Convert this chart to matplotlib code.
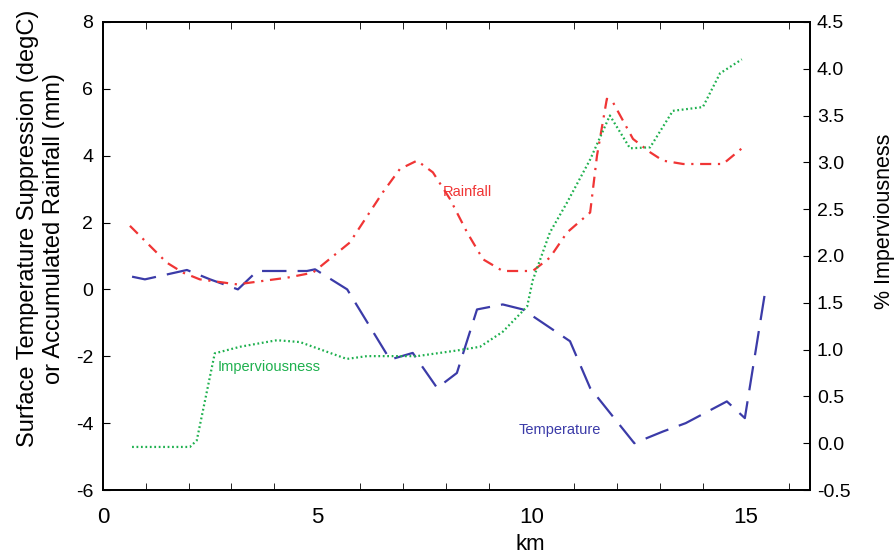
import matplotlib
matplotlib.use("Agg")
import matplotlib.pyplot as plt

plt.rcParams['font.family'] = ['Liberation Sans', 'DejaVu Sans']
plt.rcParams['axes.unicode_minus'] = False

# surface temperature suppression (degC), left axis
temp_km = [0.68, 0.98, 1.96, 2.5, 3.15, 3.6, 4.76, 4.95, 5.7, 6.7, 7.23, 7.8, 8.26,
           8.73, 9.33, 9.8, 10.9, 11.37, 11.9, 12.4, 13.07, 13.6, 14.56, 14.98, 15.45]
temp = [0.38, 0.3, 0.58, 0.3, 0.0, 0.55, 0.55, 0.6, 0.0, -2.1, -1.9, -2.95, -2.5,
        -0.6, -0.45, -0.6, -1.55, -2.95, -3.8, -4.6, -4.25, -4.0, -3.35, -3.85, -0.1]

# accumulated rainfall (mm), left axis
rain_km = [0.63, 1.49, 1.87, 2.26, 3.13, 4.3, 4.9, 5.76, 6.53, 6.93, 7.33, 7.7, 8.1,
           8.5, 8.87, 9.33, 10.03, 10.43, 10.83, 11.37, 11.53, 11.76, 11.9, 12.37,
           12.77, 13.07, 13.54, 14.47, 14.94]
rain = [1.9, 0.8, 0.5, 0.3, 0.15, 0.35, 0.5, 1.4, 2.9, 3.6, 3.85, 3.5, 2.7,
        1.7, 0.9, 0.55, 0.55, 0.95, 1.7, 2.3, 4.0, 5.7, 5.6, 4.5,
        4.1, 3.85, 3.75, 3.75, 4.25]

# imperviousness (%), right axis
imp_km = [0.68, 2.03, 2.19, 2.61, 3.2, 4.06, 4.6, 5.69, 6.16, 7.33, 8.26, 8.8, 9.33,
          9.9, 10.03, 10.43, 10.83, 11.37, 11.83, 12.3, 12.77, 13.3, 14.0, 14.4, 14.91]
imp = [-0.04, -0.04, 0.03, 0.96, 1.03, 1.1, 1.08, 0.9, 0.93, 0.93, 0.99, 1.03, 1.19,
       1.46, 1.74, 2.25, 2.57, 3.03, 3.5, 3.15, 3.16, 3.55, 3.59, 3.95, 4.1]

fig = plt.figure(figsize=(8.95, 5.54), dpi=100)
ax = fig.add_axes([0.115, 0.1155, 0.79, 0.845])
ax2 = ax.twinx()

blue = '#3b3ba8'
red = '#f03535'
green = '#1eb04e'

ax.plot(temp_km, temp, color=blue, lw=1.6, dashes=(11, 5))
ax.plot(rain_km, rain, color=red, lw=1.6, dashes=(5, 3, 1, 3))
ax2.plot(imp_km, imp, color=green, lw=1.6, dashes=(0.8, 1.2))

ax.text(7.93, 2.9, 'Rainfall', color=red, fontsize=10.5, va='center')
ax.text(2.68, -2.32, 'Imperviousness', color=green, fontsize=10.5, va='center')
ax.text(9.69, -4.2, 'Temperature', color=blue, fontsize=10.5, va='center')

ax.set_xlim(0, 16.5)
ax.set_ylim(-6, 8)
ax2.set_ylim(-0.5, 4.5)
ax.set_xticks([0, 5, 10, 15])
ax.set_xticks(range(1, 17), minor=True)
ax.set_yticks(range(-6, 9, 2))
ax2.set_yticks([i * 0.5 - 0.5 for i in range(11)])
ax2.set_yticklabels(['%.1f' % (i * 0.5 - 0.5) for i in range(11)])

ax.tick_params(axis='x', which='both', direction='in', top=True, length=5,
               labelsize=16, pad=12)
ax.tick_params(axis='x', which='major', length=0)
ax.tick_params(axis='y', direction='in', length=5, labelsize=14, pad=7)
ax2.tick_params(axis='y', direction='in', length=5, labelsize=14, pad=5)

ax.set_xlabel('km', fontsize=16)
ax.xaxis.set_label_coords(0.604, -0.093)
ax.set_ylabel('Surface Temperature Suppression (degC)\nor Accumulated Rainfall (mm)',
              fontsize=17, linespacing=1.2)
ax.yaxis.set_label_coords(-0.054, 0.558)
ax2.set_ylabel('% Imperviousness', fontsize=15.5)
ax2.yaxis.set_label_coords(1.09, 0.573)

for a in (ax, ax2):
    for s in a.spines.values():
        s.set_linewidth(1.3)

fig.savefig('out.png', dpi=100)
